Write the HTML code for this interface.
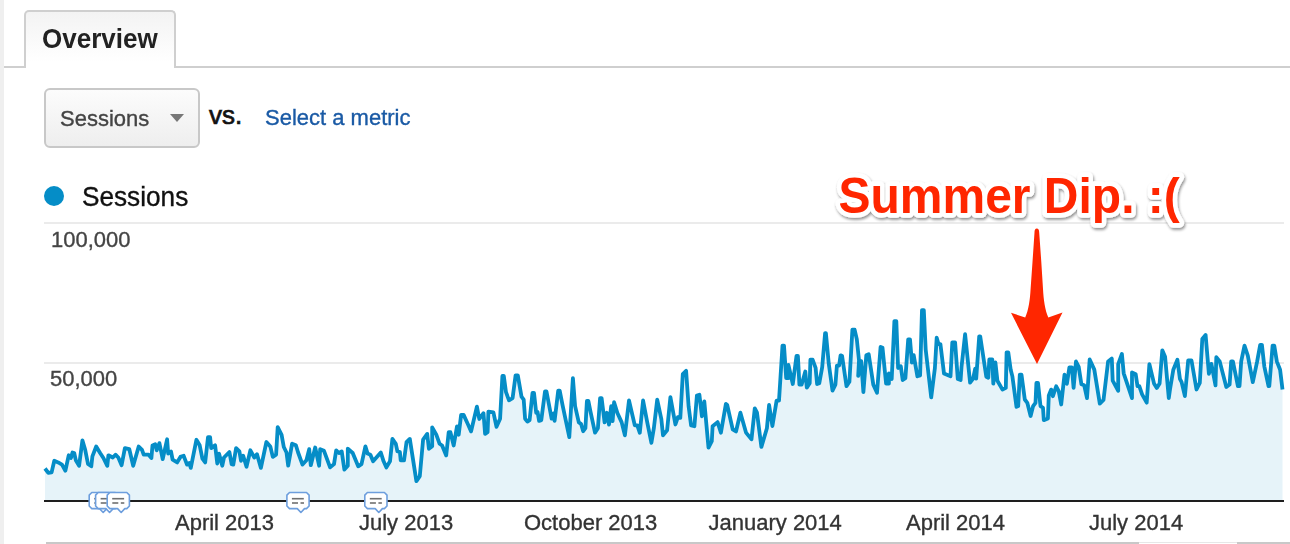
<!DOCTYPE html>
<html><head><meta charset="utf-8">
<style>
html,body{margin:0;padding:0;background:#fff;}
body{width:1290px;height:544px;overflow:hidden;position:relative;font-family:"Liberation Sans",sans-serif;}
.abs{position:absolute;}
.t{white-space:nowrap;line-height:1;}
#strip{left:0;top:0;width:4px;height:544px;background:#efefef;}
#tabline{left:4px;top:66px;width:1286px;height:2px;background:#cfcfcf;}
#tab{left:24px;top:10px;height:58px;width:152px;border:2px solid #cfcfcf;border-bottom:none;border-radius:5px 5px 0 0;
  background:linear-gradient(#f3f3f3,#ffffff 90%);box-sizing:border-box;}
#dd{left:44px;top:88px;width:156px;height:60px;box-sizing:border-box;border:2px solid #c8c8c8;border-radius:6px;
  background:linear-gradient(#fcfcfc,#eeeeee);}
#tri{left:170px;top:114px;width:0;height:0;border-left:7px solid transparent;border-right:7px solid transparent;border-top:8.5px solid #777;}
#dot{left:44px;top:186px;width:20px;height:20px;border-radius:50%;background:#058dc7;}
</style></head><body>
<div id="strip" class="abs"></div>
<div id="tabline" class="abs"></div>
<div id="tab" class="abs"></div>
<div id="dd" class="abs"></div>
<div id="tri" class="abs"></div>
<div id="dot" class="abs"></div>
<svg class="abs" style="left:0;top:0" width="1290" height="544" viewBox="0 0 1290 544">
  <defs>
    <filter id="sh" x="-10%" y="-30%" width="120%" height="160%">
      <feGaussianBlur in="SourceAlpha" stdDeviation="1.6"/>
      <feOffset dx="0.5" dy="2" result="b"/>
      <feComponentTransfer><feFuncA type="linear" slope="0.45"/></feComponentTransfer>
      <feMerge><feMergeNode/><feMergeNode in="SourceGraphic"/></feMerge>
    </filter>
  </defs>
  <rect x="44" y="222" width="1240" height="2" fill="#ebebeb"/>
  <rect x="44" y="362" width="1240" height="2" fill="#ebebeb"/>
  <path d="M45.0,501 L45.0,468.5 L48.3,472.9 L51.6,472.4 L54.3,460.8 L58.2,462.4 L62.0,464.6 L65.4,470.7 L68.7,455.3 L70.9,458.0 L72.5,452.5 L74.2,453.0 L75.8,460.2 L79.1,465.8 L82.4,440.4 L85.2,449.8 L88.0,464.0 L91.3,466.3 L92.4,456.4 L96.2,446.5 L100.1,453.0 L103.4,458.0 L107.3,465.8 L108.4,455.3 L112.8,457.5 L115.5,454.7 L118.3,457.5 L121.6,465.2 L124.9,448.1 L129.3,449.2 L133.2,465.8 L138.7,446.5 L142.0,449.8 L143.7,454.7 L148.6,454.7 L151.4,458.0 L152.5,445.4 L155.2,444.3 L156.7,450.3 L159.4,443.1 L162.7,459.1 L167.1,439.3 L168.2,453.6 L171.0,451.4 L172.6,459.7 L177.1,462.4 L180.4,456.9 L183.7,455.8 L187.0,464.6 L189.2,463.0 L190.8,467.9 L196.4,439.8 L199.7,445.3 L202.4,458.6 L205.2,462.4 L208.0,437.1 L210.1,437.1 L211.2,448.1 L215.1,445.3 L217.3,463.5 L219.0,453.6 L222.3,465.7 L224.0,457.5 L229.4,452.0 L231.6,464.1 L233.3,464.6 L236.1,448.1 L239.4,451.4 L241.0,460.8 L243.2,455.8 L246.5,466.8 L250.4,450.3 L254.3,457.5 L257.0,454.2 L260.9,467.9 L266.4,442.0 L270.3,446.4 L272.8,456.9 L276.1,454.7 L277.7,427.1 L281.6,434.9 L283.8,447.0 L286.5,452.5 L288.2,465.7 L292.1,443.7 L295.9,445.3 L298.1,452.5 L302.5,464.6 L306.4,460.2 L309.2,449.2 L310.8,465.2 L315.2,447.5 L319.1,465.7 L320.2,449.2 L324.0,450.8 L330.1,467.4 L334.0,464.1 L336.2,450.3 L338.9,453.0 L341.7,451.4 L344.4,469.6 L347.8,465.7 L347.8,448.6 L352.7,453.0 L358.2,466.3 L361.5,464.1 L365.4,446.4 L367.6,453.6 L370.4,454.7 L373.1,461.3 L380.8,452.5 L383.6,461.3 L386.4,467.4 L390.0,461.2 L392.4,438.9 L395.8,443.8 L397.4,451.3 L399.9,452.1 L400.7,460.4 L404.0,460.4 L406.5,442.2 L409.8,438.9 L416.4,481.1 L419.8,476.1 L423.1,439.7 L427.2,433.9 L428.9,448.8 L432.2,446.3 L432.2,427.3 L436.3,434.7 L439.6,443.8 L442.1,445.5 L446.2,455.4 L448.7,432.2 L450.4,432.2 L453.7,445.5 L457.0,426.4 L458.7,434.7 L461.1,414.9 L463.6,414.9 L467.8,424.0 L471.1,431.4 L476.9,406.6 L479.3,419.0 L483.5,413.2 L485.1,433.9 L487.6,432.2 L488.4,411.6 L493.4,412.4 L496.5,426.8 L500.1,418.7 L502.4,376.0 L503.8,376.0 L506.0,392.2 L509.0,400.3 L512.6,398.1 L515.6,375.3 L517.8,375.3 L521.5,396.6 L523.7,399.6 L525.1,418.7 L527.4,421.6 L529.6,420.1 L532.5,393.0 L534.0,393.0 L536.2,412.8 L537.6,412.1 L539.1,420.9 L541.3,420.1 L545.0,391.5 L546.5,391.5 L550.1,410.6 L551.6,418.7 L553.8,413.5 L554.6,420.9 L558.2,390.7 L559.7,390.7 L562.6,405.4 L569.3,437.1 L572.9,378.2 L575.1,406.2 L578.8,422.4 L581.0,423.8 L583.2,431.2 L585.4,428.2 L586.9,401.0 L588.4,401.0 L590.6,412.1 L595.0,432.6 L597.9,428.2 L600.1,398.1 L601.6,398.1 L604.6,422.4 L606.8,412.8 L609.0,424.6 L611.2,406.2 L612.6,421.2 L614.1,402.2 L617.4,413.0 L621.6,422.1 L624.9,435.3 L629.0,400.5 L634.8,425.4 L637.3,425.4 L639.8,432.8 L643.1,400.5 L647.2,422.1 L651.4,442.8 L653.9,427.9 L657.2,399.7 L661.3,418.8 L663.0,435.3 L667.1,430.3 L670.4,397.2 L675.4,424.5 L677.9,417.1 L680.3,417.9 L682.8,374.1 L686.1,370.8 L688.6,406.3 L691.1,425.4 L694.4,426.2 L696.9,395.6 L699.4,394.8 L701.9,416.3 L704.3,401.4 L708.5,447.7 L711.8,441.1 L712.6,426.2 L717.6,422.1 L720.9,432.8 L725.9,403.9 L727.2,405.0 L732.7,429.3 L736.0,431.5 L740.4,412.7 L746.0,432.6 L751.5,439.2 L754.8,408.3 L757.0,412.7 L761.4,446.9 L766.9,428.2 L769.1,405.0 L772.4,426.0 L776.6,400.6 L779.0,400.6 L782.5,345.7 L784.0,345.7 L786.2,378.1 L788.4,378.1 L788.4,364.9 L792.8,384.0 L796.5,356.0 L797.9,356.0 L799.4,384.7 L801.6,384.7 L805.3,371.5 L806.8,387.6 L809.7,383.2 L810.4,359.7 L812.6,359.7 L815.6,367.8 L817.1,384.0 L819.3,383.2 L822.2,367.1 L825.1,333.2 L825.9,333.2 L828.8,364.1 L832.5,390.6 L835.4,384.7 L836.9,365.6 L839.1,365.6 L840.6,355.3 L842.1,356.0 L846.5,386.2 L849.4,381.8 L852.4,329.6 L854.6,329.6 L856.8,339.1 L859.0,360.4 L858.2,375.9 L861.2,361.2 L863.4,392.1 L866.3,355.3 L868.7,354.2 L873.3,384.6 L877.0,392.8 L880.6,346.9 L882.5,347.8 L886.1,383.6 L888.9,383.6 L888.9,373.5 L891.7,379.0 L894.4,321.1 L896.3,321.1 L898.1,368.0 L900.8,366.2 L902.7,380.0 L905.4,378.1 L908.2,339.5 L910.0,339.5 L911.9,362.5 L913.7,355.1 L917.4,376.3 L920.1,375.4 L922.0,310.1 L923.8,310.1 L925.7,349.6 L931.2,397.4 L934.9,368.0 L936.7,337.7 L938.5,344.1 L940.4,344.1 L944.0,373.5 L950.5,376.3 L952.3,342.3 L955.1,342.3 L957.8,379.0 L960.6,380.0 L961.5,367.1 L965.1,334.2 L970.1,382.7 L973.1,378.7 L975.2,368.6 L976.2,378.7 L979.2,336.3 L980.2,336.3 L986.3,376.7 L988.3,377.7 L989.3,359.5 L992.3,359.5 L993.3,383.7 L995.4,362.5 L997.4,380.7 L1002.5,389.6 L1005.8,387.9 L1006.6,352.4 L1008.3,352.4 L1010.7,369.8 L1012.4,376.4 L1016.5,406.9 L1018.2,406.1 L1019.8,374.7 L1021.5,374.7 L1024.8,399.5 L1027.3,402.8 L1030.6,416.0 L1033.1,406.1 L1035.5,402.8 L1036.4,383.0 L1038.0,383.0 L1040.5,406.1 L1043.0,407.8 L1043.8,420.2 L1047.9,418.5 L1048.8,395.4 L1051.2,389.6 L1052.9,396.2 L1056.2,386.3 L1058.7,391.2 L1061.2,404.5 L1064.5,374.7 L1066.9,383.8 L1069.4,367.3 L1071.9,367.3 L1073.6,387.9 L1076.0,361.5 L1078.7,366.9 L1081.4,384.3 L1084.2,385.3 L1087.0,398.1 L1089.7,359.5 L1094.3,369.6 L1099.8,403.6 L1103.5,400.0 L1108.1,361.4 L1111.8,358.6 L1112.7,380.7 L1118.2,390.8 L1118.2,364.1 L1121.9,354.0 L1123.7,373.3 L1132.0,398.1 L1132.0,372.4 L1135.7,374.2 L1137.5,386.2 L1139.3,386.2 L1142.1,394.4 L1146.7,402.7 L1149.4,364.1 L1154.0,383.4 L1156.8,388.0 L1159.6,383.4 L1162.3,350.3 L1165.1,356.8 L1168.8,398.1 L1170.0,389.5 L1173.3,369.7 L1177.4,359.7 L1179.9,378.8 L1181.6,382.1 L1184.9,396.1 L1188.2,360.5 L1191.5,360.5 L1196.5,389.5 L1199.8,382.9 L1202.3,339.0 L1205.6,334.9 L1208.9,373.8 L1211.4,363.9 L1215.5,385.4 L1216.3,357.2 L1219.7,361.4 L1226.3,387.0 L1229.6,384.5 L1231.2,361.4 L1232.9,361.4 L1237.9,386.2 L1239.5,386.2 L1241.2,361.4 L1244.5,345.7 L1247.8,355.6 L1252.8,382.1 L1257.0,362.2 L1260.2,344.8 L1261.9,344.8 L1264.3,366.3 L1268.5,386.2 L1269.3,386.2 L1272.6,345.7 L1274.3,345.7 L1276.8,361.4 L1280.1,369.7 L1282.5,389.5 L1282.5,501 Z" fill="#058dc7" fill-opacity="0.1"/>
  <path d="M45.0,468.5 L48.3,472.9 L51.6,472.4 L54.3,460.8 L58.2,462.4 L62.0,464.6 L65.4,470.7 L68.7,455.3 L70.9,458.0 L72.5,452.5 L74.2,453.0 L75.8,460.2 L79.1,465.8 L82.4,440.4 L85.2,449.8 L88.0,464.0 L91.3,466.3 L92.4,456.4 L96.2,446.5 L100.1,453.0 L103.4,458.0 L107.3,465.8 L108.4,455.3 L112.8,457.5 L115.5,454.7 L118.3,457.5 L121.6,465.2 L124.9,448.1 L129.3,449.2 L133.2,465.8 L138.7,446.5 L142.0,449.8 L143.7,454.7 L148.6,454.7 L151.4,458.0 L152.5,445.4 L155.2,444.3 L156.7,450.3 L159.4,443.1 L162.7,459.1 L167.1,439.3 L168.2,453.6 L171.0,451.4 L172.6,459.7 L177.1,462.4 L180.4,456.9 L183.7,455.8 L187.0,464.6 L189.2,463.0 L190.8,467.9 L196.4,439.8 L199.7,445.3 L202.4,458.6 L205.2,462.4 L208.0,437.1 L210.1,437.1 L211.2,448.1 L215.1,445.3 L217.3,463.5 L219.0,453.6 L222.3,465.7 L224.0,457.5 L229.4,452.0 L231.6,464.1 L233.3,464.6 L236.1,448.1 L239.4,451.4 L241.0,460.8 L243.2,455.8 L246.5,466.8 L250.4,450.3 L254.3,457.5 L257.0,454.2 L260.9,467.9 L266.4,442.0 L270.3,446.4 L272.8,456.9 L276.1,454.7 L277.7,427.1 L281.6,434.9 L283.8,447.0 L286.5,452.5 L288.2,465.7 L292.1,443.7 L295.9,445.3 L298.1,452.5 L302.5,464.6 L306.4,460.2 L309.2,449.2 L310.8,465.2 L315.2,447.5 L319.1,465.7 L320.2,449.2 L324.0,450.8 L330.1,467.4 L334.0,464.1 L336.2,450.3 L338.9,453.0 L341.7,451.4 L344.4,469.6 L347.8,465.7 L347.8,448.6 L352.7,453.0 L358.2,466.3 L361.5,464.1 L365.4,446.4 L367.6,453.6 L370.4,454.7 L373.1,461.3 L380.8,452.5 L383.6,461.3 L386.4,467.4 L390.0,461.2 L392.4,438.9 L395.8,443.8 L397.4,451.3 L399.9,452.1 L400.7,460.4 L404.0,460.4 L406.5,442.2 L409.8,438.9 L416.4,481.1 L419.8,476.1 L423.1,439.7 L427.2,433.9 L428.9,448.8 L432.2,446.3 L432.2,427.3 L436.3,434.7 L439.6,443.8 L442.1,445.5 L446.2,455.4 L448.7,432.2 L450.4,432.2 L453.7,445.5 L457.0,426.4 L458.7,434.7 L461.1,414.9 L463.6,414.9 L467.8,424.0 L471.1,431.4 L476.9,406.6 L479.3,419.0 L483.5,413.2 L485.1,433.9 L487.6,432.2 L488.4,411.6 L493.4,412.4 L496.5,426.8 L500.1,418.7 L502.4,376.0 L503.8,376.0 L506.0,392.2 L509.0,400.3 L512.6,398.1 L515.6,375.3 L517.8,375.3 L521.5,396.6 L523.7,399.6 L525.1,418.7 L527.4,421.6 L529.6,420.1 L532.5,393.0 L534.0,393.0 L536.2,412.8 L537.6,412.1 L539.1,420.9 L541.3,420.1 L545.0,391.5 L546.5,391.5 L550.1,410.6 L551.6,418.7 L553.8,413.5 L554.6,420.9 L558.2,390.7 L559.7,390.7 L562.6,405.4 L569.3,437.1 L572.9,378.2 L575.1,406.2 L578.8,422.4 L581.0,423.8 L583.2,431.2 L585.4,428.2 L586.9,401.0 L588.4,401.0 L590.6,412.1 L595.0,432.6 L597.9,428.2 L600.1,398.1 L601.6,398.1 L604.6,422.4 L606.8,412.8 L609.0,424.6 L611.2,406.2 L612.6,421.2 L614.1,402.2 L617.4,413.0 L621.6,422.1 L624.9,435.3 L629.0,400.5 L634.8,425.4 L637.3,425.4 L639.8,432.8 L643.1,400.5 L647.2,422.1 L651.4,442.8 L653.9,427.9 L657.2,399.7 L661.3,418.8 L663.0,435.3 L667.1,430.3 L670.4,397.2 L675.4,424.5 L677.9,417.1 L680.3,417.9 L682.8,374.1 L686.1,370.8 L688.6,406.3 L691.1,425.4 L694.4,426.2 L696.9,395.6 L699.4,394.8 L701.9,416.3 L704.3,401.4 L708.5,447.7 L711.8,441.1 L712.6,426.2 L717.6,422.1 L720.9,432.8 L725.9,403.9 L727.2,405.0 L732.7,429.3 L736.0,431.5 L740.4,412.7 L746.0,432.6 L751.5,439.2 L754.8,408.3 L757.0,412.7 L761.4,446.9 L766.9,428.2 L769.1,405.0 L772.4,426.0 L776.6,400.6 L779.0,400.6 L782.5,345.7 L784.0,345.7 L786.2,378.1 L788.4,378.1 L788.4,364.9 L792.8,384.0 L796.5,356.0 L797.9,356.0 L799.4,384.7 L801.6,384.7 L805.3,371.5 L806.8,387.6 L809.7,383.2 L810.4,359.7 L812.6,359.7 L815.6,367.8 L817.1,384.0 L819.3,383.2 L822.2,367.1 L825.1,333.2 L825.9,333.2 L828.8,364.1 L832.5,390.6 L835.4,384.7 L836.9,365.6 L839.1,365.6 L840.6,355.3 L842.1,356.0 L846.5,386.2 L849.4,381.8 L852.4,329.6 L854.6,329.6 L856.8,339.1 L859.0,360.4 L858.2,375.9 L861.2,361.2 L863.4,392.1 L866.3,355.3 L868.7,354.2 L873.3,384.6 L877.0,392.8 L880.6,346.9 L882.5,347.8 L886.1,383.6 L888.9,383.6 L888.9,373.5 L891.7,379.0 L894.4,321.1 L896.3,321.1 L898.1,368.0 L900.8,366.2 L902.7,380.0 L905.4,378.1 L908.2,339.5 L910.0,339.5 L911.9,362.5 L913.7,355.1 L917.4,376.3 L920.1,375.4 L922.0,310.1 L923.8,310.1 L925.7,349.6 L931.2,397.4 L934.9,368.0 L936.7,337.7 L938.5,344.1 L940.4,344.1 L944.0,373.5 L950.5,376.3 L952.3,342.3 L955.1,342.3 L957.8,379.0 L960.6,380.0 L961.5,367.1 L965.1,334.2 L970.1,382.7 L973.1,378.7 L975.2,368.6 L976.2,378.7 L979.2,336.3 L980.2,336.3 L986.3,376.7 L988.3,377.7 L989.3,359.5 L992.3,359.5 L993.3,383.7 L995.4,362.5 L997.4,380.7 L1002.5,389.6 L1005.8,387.9 L1006.6,352.4 L1008.3,352.4 L1010.7,369.8 L1012.4,376.4 L1016.5,406.9 L1018.2,406.1 L1019.8,374.7 L1021.5,374.7 L1024.8,399.5 L1027.3,402.8 L1030.6,416.0 L1033.1,406.1 L1035.5,402.8 L1036.4,383.0 L1038.0,383.0 L1040.5,406.1 L1043.0,407.8 L1043.8,420.2 L1047.9,418.5 L1048.8,395.4 L1051.2,389.6 L1052.9,396.2 L1056.2,386.3 L1058.7,391.2 L1061.2,404.5 L1064.5,374.7 L1066.9,383.8 L1069.4,367.3 L1071.9,367.3 L1073.6,387.9 L1076.0,361.5 L1078.7,366.9 L1081.4,384.3 L1084.2,385.3 L1087.0,398.1 L1089.7,359.5 L1094.3,369.6 L1099.8,403.6 L1103.5,400.0 L1108.1,361.4 L1111.8,358.6 L1112.7,380.7 L1118.2,390.8 L1118.2,364.1 L1121.9,354.0 L1123.7,373.3 L1132.0,398.1 L1132.0,372.4 L1135.7,374.2 L1137.5,386.2 L1139.3,386.2 L1142.1,394.4 L1146.7,402.7 L1149.4,364.1 L1154.0,383.4 L1156.8,388.0 L1159.6,383.4 L1162.3,350.3 L1165.1,356.8 L1168.8,398.1 L1170.0,389.5 L1173.3,369.7 L1177.4,359.7 L1179.9,378.8 L1181.6,382.1 L1184.9,396.1 L1188.2,360.5 L1191.5,360.5 L1196.5,389.5 L1199.8,382.9 L1202.3,339.0 L1205.6,334.9 L1208.9,373.8 L1211.4,363.9 L1215.5,385.4 L1216.3,357.2 L1219.7,361.4 L1226.3,387.0 L1229.6,384.5 L1231.2,361.4 L1232.9,361.4 L1237.9,386.2 L1239.5,386.2 L1241.2,361.4 L1244.5,345.7 L1247.8,355.6 L1252.8,382.1 L1257.0,362.2 L1260.2,344.8 L1261.9,344.8 L1264.3,366.3 L1268.5,386.2 L1269.3,386.2 L1272.6,345.7 L1274.3,345.7 L1276.8,361.4 L1280.1,369.7 L1282.5,389.5" fill="none" stroke="#058dc7" stroke-width="3.8" stroke-linejoin="round" stroke-miterlimit="4"/>
  <rect x="44" y="500" width="1240" height="2" fill="#1e1e1e"/>
  <path d="M91.80,492.55 L108.80,492.55 L111.40,495.15 L111.40,506.00 L108.80,508.60 L106.79,508.60 L103.19,512.50 L99.59,508.60 L91.80,508.60 L89.20,506.00 L89.20,495.15 Z" fill="#fff" stroke="#6d9edd" stroke-width="1.6" stroke-linejoin="round"/><rect x="94.20" y="497.90" width="11.9" height="1.6" fill="#707070"/><rect x="94.30" y="502.20" width="6" height="1.6" fill="#707070"/><rect x="102.80" y="502.20" width="3.5" height="1.6" fill="#707070"/><path d="M98.20,492.55 L115.20,492.55 L117.80,495.15 L117.80,506.00 L115.20,508.60 L113.19,508.60 L109.59,512.50 L105.99,508.60 L98.20,508.60 L95.60,506.00 L95.60,495.15 Z" fill="#fff" stroke="#6d9edd" stroke-width="1.6" stroke-linejoin="round"/><rect x="100.60" y="497.90" width="11.9" height="1.6" fill="#707070"/><rect x="100.70" y="502.20" width="6" height="1.6" fill="#707070"/><rect x="109.20" y="502.20" width="3.5" height="1.6" fill="#707070"/><path d="M109.80,492.55 L126.80,492.55 L129.40,495.15 L129.40,506.00 L126.80,508.60 L124.79,508.60 L121.19,512.50 L117.59,508.60 L109.80,508.60 L107.20,506.00 L107.20,495.15 Z" fill="#fff" stroke="#6d9edd" stroke-width="1.6" stroke-linejoin="round"/><rect x="112.20" y="497.90" width="11.9" height="1.6" fill="#707070"/><rect x="112.30" y="502.20" width="6" height="1.6" fill="#707070"/><rect x="120.80" y="502.20" width="3.5" height="1.6" fill="#707070"/><path d="M289.50,492.55 L306.50,492.55 L309.10,495.15 L309.10,506.00 L306.50,508.60 L304.49,508.60 L300.89,512.50 L297.29,508.60 L289.50,508.60 L286.90,506.00 L286.90,495.15 Z" fill="#fff" stroke="#6d9edd" stroke-width="1.6" stroke-linejoin="round"/><rect x="291.90" y="497.90" width="11.9" height="1.6" fill="#707070"/><rect x="292.00" y="502.20" width="6" height="1.6" fill="#707070"/><rect x="300.50" y="502.20" width="3.5" height="1.6" fill="#707070"/><path d="M367.40,492.55 L384.40,492.55 L387.00,495.15 L387.00,506.00 L384.40,508.60 L382.39,508.60 L378.79,512.50 L375.19,508.60 L367.40,508.60 L364.80,506.00 L364.80,495.15 Z" fill="#fff" stroke="#6d9edd" stroke-width="1.6" stroke-linejoin="round"/><rect x="369.80" y="497.90" width="11.9" height="1.6" fill="#707070"/><rect x="369.90" y="502.20" width="6" height="1.6" fill="#707070"/><rect x="378.40" y="502.20" width="3.5" height="1.6" fill="#707070"/>
  <rect x="46" y="542" width="1244" height="2" fill="#c8c8c8"/>
  <rect x="1139" y="542" width="98" height="2" fill="#fff"/><rect x="1139" y="542" width="98" height="0.8" fill="#e2e2e2"/>
  <g filter="url(#sh)">
  <text transform="translate(838.5,212.8) scale(1,1.04)" x="0" y="0" font-family="Liberation Sans" font-weight="bold" font-size="48" fill="#ff2600" stroke="#fff" stroke-width="9" stroke-linejoin="round" paint-order="stroke">Summer Dip. :(</text>
  </g>
  <path d="M1036.8,228.5 C1038.3,228.5 1039.2,230 1039.2,232.5 L1041.3,262 L1043,289 C1043.6,300 1045,310 1048.3,317.5 L1062.5,312.5 L1037,364 L1011,312.8 L1025.2,317.5 C1028.6,310 1030,300 1030.6,289 L1032.5,262 L1034.5,232.5 C1034.5,230 1035.3,228.5 1036.8,228.5 Z" fill="#ff2600"/>
</svg>
<div id="overview" class="abs t" style="left:42px;top:25.8px;font-size:26px;font-weight:bold;color:#222;transform:scale(1,1.035);transform-origin:0 22.01px;">Overview</div>
<div id="ddtxt" class="abs t" style="left:60px;top:108.0px;font-size:22px;font-weight:normal;color:#444;transform:scale(1,1.035);transform-origin:0 18.62px;-webkit-text-stroke:0.35px #444;">Sessions</div>
<div id="vs" class="abs t" style="left:209px;top:102.2px;font-size:26px;font-weight:normal;color:#111;-webkit-text-stroke:0.7px #111;">vs.</div>
<div id="select" class="abs t" style="left:265px;top:107.4px;font-size:22px;font-weight:normal;color:#1a5aa5;transform:scale(1,1.035);transform-origin:0 18.62px;-webkit-text-stroke:0.35px #1a5aa5;">Select a metric</div>
<div id="legend" class="abs t" style="left:82px;top:183.5px;font-size:26.2px;font-weight:normal;color:#111;transform:scale(1,1.035);transform-origin:0 22.18px;-webkit-text-stroke:0.35px #111;">Sessions</div>
<div id="y100" class="abs t" style="left:51px;top:229px;font-size:22px;font-weight:normal;color:#444;transform:scale(1,1.035);transform-origin:0 18.62px;-webkit-text-stroke:0.35px #444;">100,000</div>
<div id="y50" class="abs t" style="left:50px;top:368px;font-size:22px;font-weight:normal;color:#444;transform:scale(1,1.035);transform-origin:0 18.62px;-webkit-text-stroke:0.35px #444;">50,000</div>
<div id="apr13" class="abs t" style="left:175px;top:512.3px;font-size:22px;font-weight:normal;color:#333;transform:scale(1,1.035);transform-origin:0 18.62px;-webkit-text-stroke:0.35px #333;">April 2013</div>
<div id="jul13" class="abs t" style="left:359px;top:512.3px;font-size:22px;font-weight:normal;color:#333;transform:scale(1,1.035);transform-origin:0 18.62px;-webkit-text-stroke:0.35px #333;">July 2013</div>
<div id="oct13" class="abs t" style="left:524px;top:512.3px;font-size:22px;font-weight:normal;color:#333;transform:scale(1,1.035);transform-origin:0 18.62px;-webkit-text-stroke:0.35px #333;">October 2013</div>
<div id="jan14" class="abs t" style="left:708.5px;top:512.3px;font-size:22px;font-weight:normal;color:#333;transform:scale(1,1.035);transform-origin:0 18.62px;-webkit-text-stroke:0.35px #333;">January 2014</div>
<div id="apr14" class="abs t" style="left:906px;top:512.3px;font-size:22px;font-weight:normal;color:#333;transform:scale(1,1.035);transform-origin:0 18.62px;-webkit-text-stroke:0.35px #333;">April 2014</div>
<div id="jul14" class="abs t" style="left:1089px;top:512.3px;font-size:22px;font-weight:normal;color:#333;transform:scale(1,1.035);transform-origin:0 18.62px;-webkit-text-stroke:0.35px #333;">July 2014</div>

</body></html>
